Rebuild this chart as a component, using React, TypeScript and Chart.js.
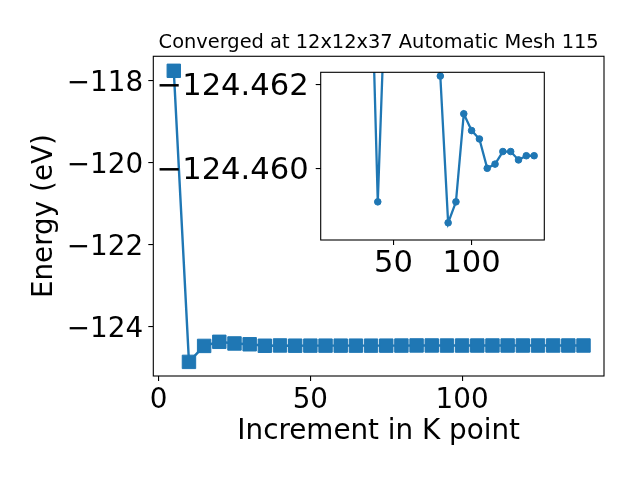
import React, { useEffect, useRef } from 'react';
import { Chart, registerables } from 'chart.js';

Chart.register(...registerables);

const TITLE = 'Converged at 12x12x37 Automatic Mesh 115';
const X_LABEL = 'Increment in K point';
const Y_LABEL = 'Energy (eV)';

const kPoints = [5, 10, 15, 20, 25, 30, 35, 40, 45, 50, 55, 60, 65, 70, 75, 80, 85, 90, 95, 100, 105, 110, 115, 120, 125, 130, 135, 140];
const energy = [
  -117.75, -124.86, -124.47, -124.37, -124.41, -124.43, -124.466, -124.4592, -124.4644, -124.4632,
  -124.4634, -124.4633, -124.4635, -124.4634, -124.4633, -124.4622, -124.4587, -124.4592, -124.4613, -124.4609,
  -124.4607, -124.46, -124.4601, -124.4604, -124.4604, -124.4602, -124.4603, -124.4603,
];

const insetKPoints = [10, 15, 20, 25, 30, 35, 40, 45, 50, 55, 60, 65, 70, 75, 80, 85, 90, 95, 100, 105, 110, 115, 120, 125, 130, 135, 140];
const insetEnergy = [
  -124.86, -124.47, -124.468, -124.467, -124.467, -124.466, -124.4592, -124.4644, -124.4632, -124.4634,
  -124.4633, -124.4635, -124.4634, -124.4633, -124.4622, -124.4587, -124.4592, -124.4613, -124.4609, -124.4607,
  -124.46, -124.4601, -124.4604, -124.4604, -124.4602, -124.4603, -124.4603,
];

const mainXTicks = [0, 50, 100];
const mainYTicks = [-124, -122, -120, -118];
const insetXTicks = [50, 100];
const insetYTicks = [-124.462, -124.46];

const BLUE = '#1f77b4';
const FONT = "'DejaVu Sans', sans-serif";
const TICK_SIZE = 27.8;
const INSET_TICK_SIZE = 30.6;
const LABEL_SIZE = 27.8;

const minusFmt = (v: number, digits: number) =>
  (v < 0 ? '\u2212' : '') + Math.abs(v).toFixed(digits);

const makeFrame = (fillBg: boolean) => ({
  id: 'frame' + (fillBg ? 'Bg' : ''),
  beforeDraw(chart: any) {
    if (!fillBg) return;
    const { ctx, chartArea: a } = chart;
    ctx.save();
    ctx.fillStyle = '#ffffff';
    ctx.fillRect(a.left, a.top, a.right - a.left, a.bottom - a.top);
    ctx.restore();
  },
  afterDraw(chart: any) {
    const { ctx, chartArea: a } = chart;
    ctx.save();
    ctx.strokeStyle = '#000000';
    ctx.lineWidth = 1.1;
    ctx.strokeRect(a.left, a.top, a.right - a.left, a.bottom - a.top);
    ctx.restore();
  },
});

const tickGrid = {
  display: true,
  drawOnChartArea: false,
  drawTicks: true,
  tickLength: 5,
  color: '#000000',
  lineWidth: 1.1,
};

export default function App() {
  const mainRef = useRef<HTMLCanvasElement>(null);
  const insetRef = useRef<HTMLCanvasElement>(null);

  useEffect(() => {
    if (!mainRef.current || !insetRef.current) return;

    const main = new Chart(mainRef.current, {
      type: 'line',
      data: {
        datasets: [
          {
            data: kPoints.map((k, i) => ({ x: k, y: energy[i] })),
            borderColor: BLUE,
            backgroundColor: BLUE,
            borderWidth: 2.4,
            pointStyle: 'rect',
            pointRadius: 9.5,
            pointBorderWidth: 1,
            pointBackgroundColor: BLUE,
            pointBorderColor: BLUE,
            tension: 0,
          },
        ],
      },
      options: {
        responsive: false,
        animation: false,
        devicePixelRatio: 1,
        layout: { padding: { left: 0, right: 36, top: 20, bottom: 0 } },
        plugins: {
          legend: { display: false },
          tooltip: { enabled: false },
          title: {
            display: true,
            fullSize: false,
            text: TITLE,
            color: '#000000',
            font: { family: FONT, size: 19.4, weight: 'normal' },
            padding: { top: 11, bottom: 2 },
          },
        },
        scales: {
          x: {
            type: 'linear',
            min: -1.75,
            max: 146.75,
            border: { display: false },
            grid: tickGrid,
            afterBuildTicks: (s: any) => {
              s.ticks = mainXTicks.map((v) => ({ value: v }));
            },
            afterFit: (s: any) => {
              s.height = 104;
            },
            ticks: {
              color: '#000000',
              font: { family: FONT, size: TICK_SIZE },
              padding: 3,
              maxRotation: 0,
              callback: (v: any) => minusFmt(Number(v), 0),
            },
            title: {
              display: true,
              text: X_LABEL,
              color: '#000000',
              font: { family: FONT, size: LABEL_SIZE },
              padding: { top: 31.5, bottom: 31.5 },
            },
          },
          y: {
            type: 'linear',
            min: -125.205,
            max: -117.395,
            border: { display: false },
            grid: tickGrid,
            afterBuildTicks: (s: any) => {
              s.ticks = mainYTicks.map((v) => ({ value: v }));
            },
            afterFit: (s: any) => {
              s.width = 153.3;
            },
            ticks: {
              color: '#000000',
              font: { family: FONT, size: TICK_SIZE },
              padding: 5.2,
              labelOffset: 3,
              callback: (v: any) => minusFmt(Number(v), 0),
            },
            title: {
              display: true,
              text: Y_LABEL,
              color: '#000000',
              font: { family: FONT, size: LABEL_SIZE },
              padding: { top: 28, bottom: 28 },
            },
          },
        },
      },
      plugins: [makeFrame(false)],
    } as any);

    const inset = new Chart(insetRef.current, {
      type: 'line',
      data: {
        datasets: [
          {
            data: insetKPoints.map((k, i) => ({ x: k, y: insetEnergy[i] })),
            borderColor: BLUE,
            backgroundColor: BLUE,
            borderWidth: 2.3,
            pointStyle: 'circle',
            pointRadius: 3.3,
            pointBorderWidth: 1,
            pointBackgroundColor: BLUE,
            pointBorderColor: BLUE,
            tension: 0,
          },
        ],
      },
      options: {
        responsive: false,
        animation: false,
        devicePixelRatio: 1,
        layout: { padding: { left: 0, right: 95.7, top: 72.3, bottom: 0 } },
        plugins: {
          legend: { display: false },
          tooltip: { enabled: false },
          title: { display: false },
        },
        scales: {
          x: {
            type: 'linear',
            min: 3.5,
            max: 146.5,
            border: { display: false },
            grid: tickGrid,
            afterBuildTicks: (s: any) => {
              s.ticks = insetXTicks.map((v) => ({ value: v }));
            },
            afterFit: (s: any) => {
              s.height = 240;
            },
            ticks: {
              color: '#000000',
              font: { family: FONT, size: INSET_TICK_SIZE },
              padding: 0.8,
              maxRotation: 0,
              callback: (v: any) => minusFmt(Number(v), 0),
            },
          },
          y: {
            type: 'linear',
            reverse: true,
            min: -124.46229,
            max: -124.45829,
            border: { display: false },
            grid: tickGrid,
            afterBuildTicks: (s: any) => {
              s.ticks = insetYTicks.map((v) => ({ value: v }));
            },
            afterFit: (s: any) => {
              s.width = 320.7;
            },
            ticks: {
              color: '#000000',
              font: { family: FONT, size: INSET_TICK_SIZE },
              padding: 7,
              labelOffset: 3,
              callback: (v: any) => minusFmt(Number(v), 3),
            },
          },
        },
      },
      plugins: [makeFrame(true)],
    } as any);

    return () => {
      main.destroy();
      inset.destroy();
    };
  }, []);

  return (
    <div style={{ position: 'fixed', left: 0, top: 0, width: 640, height: 480, background: '#ffffff' }}>
      <canvas ref={mainRef} width={640} height={480} style={{ position: 'absolute', left: 0, top: 0, width: 640, height: 480 }} />
      <canvas ref={insetRef} width={640} height={480} style={{ position: 'absolute', left: 0, top: 0, width: 640, height: 480, pointerEvents: 'none' }} />
    </div>
  );
}
